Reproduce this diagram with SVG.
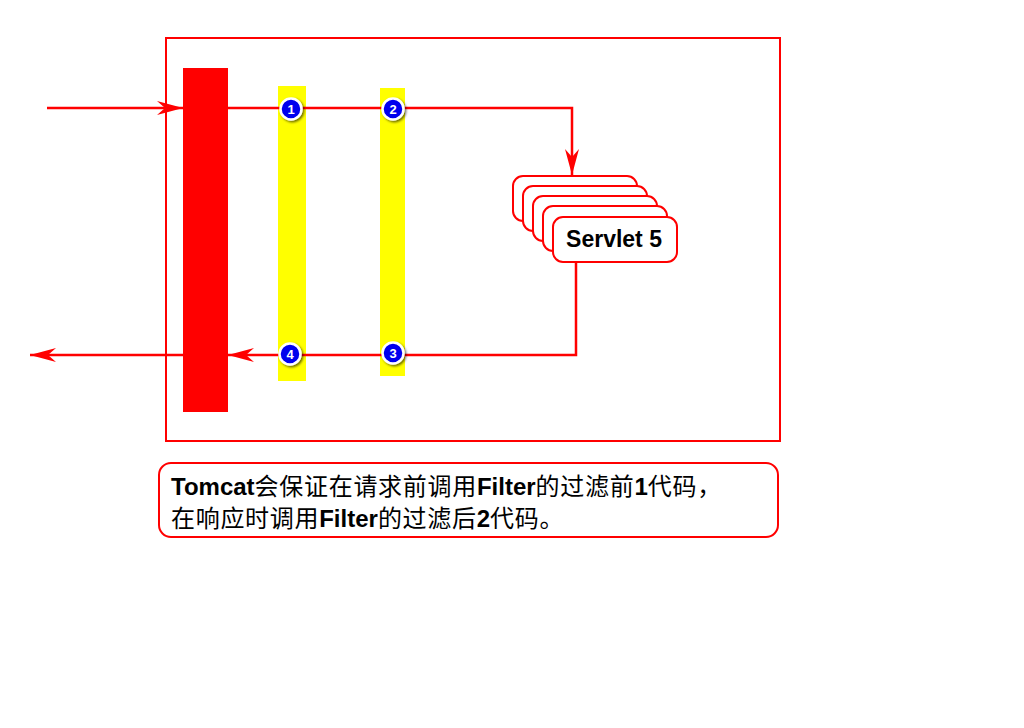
<svg xmlns="http://www.w3.org/2000/svg" width="1024" height="728" viewBox="0 0 1024 728">
<defs>
<style>
.frame{fill:#fff;stroke:#ff0000;stroke-width:2}
.line{fill:none;stroke:#ff0000;stroke-width:2.5}
.servlet{fill:#fff;stroke:#ff0000;stroke-width:2}
.badge{fill:#0000ee;stroke:#fff;stroke-width:2.5}
.num{font-family:"Liberation Sans",Arial,sans-serif;font-size:13px;font-weight:bold;fill:#fff;text-anchor:middle}
.lat{font-family:"Liberation Sans",Arial,sans-serif;font-weight:bold}
.cjk{font-family:"Noto Sans CJK SC",sans-serif;font-weight:normal;letter-spacing:0.7px}
</style>
<marker id="ah" markerUnits="userSpaceOnUse" markerWidth="28" markerHeight="16" viewBox="-26 -8 28 16" refX="0" refY="0" orient="auto">
<path d="M0,0 L-26,-7 L-18,0 L-26,7 Z" fill="#ff0000"/>
</marker>
<filter id="sh" x="-50%" y="-50%" width="200%" height="200%">
<feDropShadow dx="1.5" dy="1.5" stdDeviation="1.2" flood-color="#000" flood-opacity="0.6"/>
</filter>
</defs>
<rect width="1024" height="728" fill="#fff"/>
<g id="container">
<rect class="frame" x="166" y="38" width="614" height="403"/>
</g>
<g id="tomcat-bar">
<rect x="183" y="68" width="45" height="344" fill="#ff0000"/>
</g>
<g id="filter-1">
<rect x="278" y="86" width="28" height="295" fill="#ffff00"/>
</g>
<g id="filter-2">
<rect x="380" y="88" width="25" height="288" fill="#ffff00"/>
</g>
<g id="servlets">
<rect class="servlet" x="513" y="176" width="124" height="45" rx="10"/>
<rect class="servlet" x="523" y="186" width="124" height="45" rx="10"/>
<rect class="servlet" x="533" y="196" width="124" height="45" rx="10"/>
<rect class="servlet" x="543" y="206" width="124" height="45" rx="10"/>
<rect class="servlet" x="553" y="217" width="124" height="45" rx="10"/>
<text x="614" y="247" text-anchor="middle" class="lat" font-size="23">Servlet 5</text>
</g>
<g id="connectors">
<line class="line" x1="47" y1="108" x2="183" y2="108" marker-end="url(#ah)"/>
<polyline class="line" points="228,108 572,108 572,175" marker-end="url(#ah)"/>
<polyline class="line" points="576,262 576,355 228,355" marker-end="url(#ah)"/>
<line class="line" x1="183" y1="355" x2="30" y2="355" marker-end="url(#ah)"/>
</g>
<g id="badge-1">
<circle class="badge" cx="291" cy="109" r="10.5" filter="url(#sh)"/>
<text class="num" x="291" y="113.5">1</text>
</g>
<g id="badge-2">
<circle class="badge" cx="393" cy="109" r="10.5" filter="url(#sh)"/>
<text class="num" x="393" y="113.5">2</text>
</g>
<g id="badge-3">
<circle class="badge" cx="393" cy="353" r="10.5" filter="url(#sh)"/>
<text class="num" x="393" y="357.5">3</text>
</g>
<g id="badge-4">
<circle class="badge" cx="290" cy="354" r="10.5" filter="url(#sh)"/>
<text class="num" x="290" y="358.5">4</text>
</g>
<g id="note">
<rect class="frame" x="159" y="463" width="619" height="74" rx="12"/>
<text x="171" y="495" font-size="24"><tspan class="lat">Tomcat</tspan><tspan class="cjk">会保证在请求前调用</tspan><tspan class="lat">Filter</tspan><tspan class="cjk">的过滤前</tspan><tspan class="lat">1</tspan><tspan class="cjk">代码，</tspan></text>
<text x="171" y="527" font-size="24"><tspan class="cjk">在响应时调用</tspan><tspan class="lat">Filter</tspan><tspan class="cjk">的过滤后</tspan><tspan class="lat">2</tspan><tspan class="cjk">代码。</tspan></text>
</g>
</svg>
